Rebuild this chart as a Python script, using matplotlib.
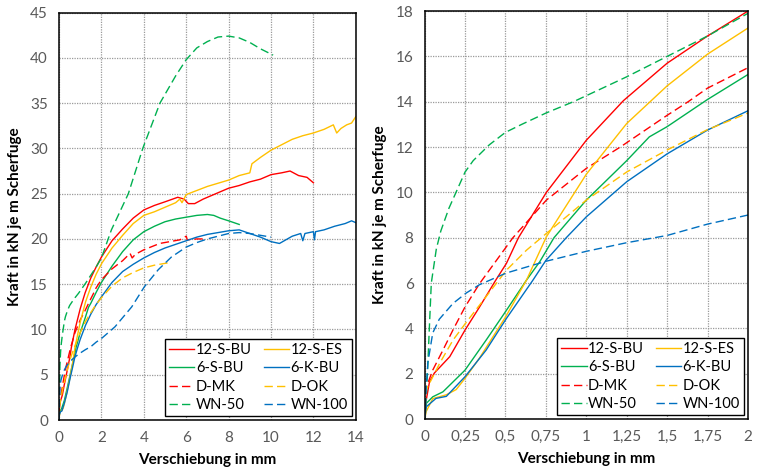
import matplotlib
matplotlib.use("Agg")
import matplotlib.pyplot as plt
from matplotlib.ticker import MultipleLocator, FuncFormatter

plt.rcParams["font.family"] = ["Lato", "DejaVu Sans"]

# Kraft-Verschiebungs-Kurven (x in mm, y in kN je m Scherfuge)
S12_BU_X = [0, 0.01, 0.03, 0.06, 0.155, 0.25, 0.34, 0.44, 0.506, 0.58, 0.753, 1.0, 1.23, 1.5, 1.75, 2.0,
            2.5, 3.0, 3.5, 4.0, 4.5, 5.0, 5.6, 5.9, 6.1, 6.4, 6.8, 7.3, 8.0, 8.5, 9.0, 9.5, 10.0, 10.5,
            10.9, 11.3, 11.7, 12.0]
S12_BU_Y = [0, 0.85, 1.65, 2.03, 2.75, 3.93, 4.95, 6.13, 6.87, 8.0, 10.0, 12.3, 14.05, 15.7, 16.9, 18.0,
            19.8, 21.1, 22.3, 23.2, 23.7, 24.1, 24.6, 24.4, 23.9, 23.9, 24.4, 24.9, 25.6, 25.9, 26.3, 26.6,
            27.1, 27.3, 27.5, 27.0, 26.8, 26.2]

S12_ES_X = [0, 0.01, 0.05, 0.134, 0.195, 0.25, 0.34, 0.5, 0.63, 0.753, 1.0, 1.25, 1.5, 1.75, 2.0,
            2.5, 3.0, 3.5, 4.0, 4.5, 5.0, 5.5, 5.7, 5.8, 6.0, 7.0, 8.0, 8.5, 9.0, 9.1, 9.5, 10.0, 10.5,
            11.0, 11.5, 12.0, 12.5, 12.94, 13.1, 13.3, 13.57, 13.8, 14.0]
S12_ES_Y = [0, 0.34, 0.9, 1.07, 1.3, 1.8, 2.7, 4.5, 6.13, 8.04, 10.8, 13.04, 14.7, 16.1, 17.25,
            19.0, 20.4, 21.7, 22.6, 23.0, 23.5, 24.0, 24.4, 24.0, 24.9, 25.8, 26.5, 27.0, 27.3, 28.3, 29.0,
            29.8, 30.4, 31.0, 31.4, 31.7, 32.1, 32.6, 31.7, 32.2, 32.6, 32.8, 33.5]

S6_S_BU_X = [0, 0.01, 0.05, 0.113, 0.25, 0.38, 0.506, 0.63, 0.712, 0.8, 1.0, 1.25, 1.39, 1.5, 1.75, 2.0,
             2.5, 3.0, 3.5, 4.0, 4.5, 5.0, 5.5, 6.0, 6.5, 7.0, 7.3, 7.6, 8.0, 8.5]
S6_S_BU_Y = [0, 0.69, 0.98, 1.2, 2.16, 3.48, 4.8, 6.13, 6.94, 8.0, 9.66, 11.4, 12.45, 12.9, 14.1, 15.2,
             17.0, 18.6, 19.9, 20.8, 21.4, 21.9, 22.2, 22.4, 22.6, 22.7, 22.6, 22.3, 22.0, 21.6]

S6_K_BU_X = [0, 0.01, 0.07, 0.134, 0.25, 0.38, 0.506, 0.67, 0.75, 0.876, 1.0, 1.25, 1.5, 1.75, 2.0,
             2.5, 3.0, 3.5, 4.0, 4.5, 5.0, 5.5, 6.0, 6.5, 7.0, 7.5, 8.0, 8.5, 9.0, 9.5, 10.0, 10.4, 10.7,
             11.0, 11.4, 11.5, 11.6, 12.0, 12.05, 12.1, 12.5, 13.0, 13.5, 13.8, 14.0]
S6_K_BU_Y = [0, 0.54, 0.91, 1.0, 1.87, 3.04, 4.44, 6.13, 7.0, 8.0, 8.92, 10.47, 11.7, 12.75, 13.6,
             15.2, 16.4, 17.2, 17.9, 18.5, 19.0, 19.4, 19.8, 20.2, 20.5, 20.7, 20.9, 21.0, 20.6, 20.2,
             19.7, 19.5, 19.9, 20.3, 20.6, 19.8, 20.6, 20.8, 19.9, 20.8, 21.0, 21.4, 21.7, 22.0, 21.8]

D_MK_X = [0, 0.01, 0.05, 0.113, 0.175, 0.25, 0.34, 0.444, 0.546, 0.753, 1.0, 1.21, 1.5, 1.63, 1.75, 2.0,
          2.5, 3.0, 3.35, 3.45, 3.6, 4.0, 4.75, 5.7, 6.0, 6.05, 6.5, 6.9]
D_MK_Y = [0, 1.4, 2.16, 3.04, 3.93, 4.95, 5.98, 7.0, 8.0, 9.66, 11.06, 12.0, 13.4, 14.0, 14.6, 15.5,
          16.7, 17.6, 18.4, 17.9, 18.3, 18.8, 19.5, 19.9, 20.3, 19.9, 20.0, 20.0]

D_OK_X = [0, 0.01, 0.093, 0.175, 0.25, 0.38, 0.506, 0.63, 0.753, 1.0, 1.25, 1.5, 1.744, 2.0,
          2.5, 3.0, 3.5, 4.0, 4.5, 5.0, 5.25]
D_OK_Y = [0, 1.3, 2.46, 3.48, 4.2, 5.4, 6.57, 7.45, 8.19, 9.66, 10.9, 11.87, 12.75, 13.5,
          14.8, 15.7, 16.3, 16.8, 17.1, 17.3, 17.4]

WN_50_X = [0, 0.01, 0.02, 0.03, 0.041, 0.072, 0.1, 0.15, 0.2, 0.25, 0.3, 0.4, 0.5, 0.6, 0.75, 0.92,
           1.25, 1.5, 1.75, 2.0, 2.47, 3.27, 3.95, 4.76, 5.5, 6.0, 6.5, 7.0, 7.5, 8.0, 8.5, 9.0, 9.5, 10.1]
WN_50_Y = [0, 1.0, 2.5, 4.2, 6.0, 7.5, 8.3, 9.3, 10.1, 10.9, 11.4, 12.1, 12.65, 13.0, 13.5, 14.0,
           15.1, 16.0, 16.9, 17.9, 21.0, 25.0, 30.0, 35.0, 38.0, 39.8, 41.1, 41.8, 42.3, 42.4, 42.2, 41.7,
           41.0, 40.3]

WN_100_X = [0, 0.006, 0.01, 0.02, 0.05, 0.09, 0.175, 0.257, 0.34, 0.504, 0.75, 1.0, 1.25, 1.5, 1.75, 2.0,
            2.64, 3.43, 4.02, 4.68, 5.3, 6.0, 6.5, 7.0, 7.5, 8.0, 8.5, 9.0, 9.5, 10.0]
WN_100_Y = [0, 0.56, 1.44, 2.5, 3.8, 4.4, 5.1, 5.56, 5.93, 6.44, 6.96, 7.4, 7.78, 8.1, 8.6, 9.0,
            10.3, 12.5, 14.7, 16.6, 18.0, 19.1, 19.6, 20.0, 20.3, 20.6, 20.7, 20.6, 20.4, 20.2]

RED = "#FF0000"
YELLOW = "#FFC000"
GREEN = "#00B050"
BLUE = "#0070C0"

# order chosen so the 2-column legend reads row by row like the original
series = [
    ("12-S-BU", S12_BU_X, S12_BU_Y, RED, "-"),
    ("6-S-BU", S6_S_BU_X, S6_S_BU_Y, GREEN, "-"),
    ("D-MK", D_MK_X, D_MK_Y, RED, "--"),
    ("WN-50", WN_50_X, WN_50_Y, GREEN, "--"),
    ("12-S-ES", S12_ES_X, S12_ES_Y, YELLOW, "-"),
    ("6-K-BU", S6_K_BU_X, S6_K_BU_Y, BLUE, "-"),
    ("D-OK", D_OK_X, D_OK_Y, YELLOW, "--"),
    ("WN-100", WN_100_X, WN_100_Y, BLUE, "--"),
]

fig = plt.figure(figsize=(7.57, 4.76), dpi=100)
ax1 = fig.add_axes([0.078, 0.1176, 0.392, 0.856])
ax2 = fig.add_axes([0.561, 0.1197, 0.427, 0.857])


def style_axes(ax):
    ax.grid(True, color="#9a9a9a", linestyle=(0, (1, 1)), linewidth=0.9)
    ax.set_axisbelow(True)
    ax.tick_params(length=0, labelsize=11, labelcolor="#595959", pad=8)
    for sp in ax.spines.values():
        sp.set_color("black")
        sp.set_linewidth(1.1)
    ax.set_xlabel("Verschiebung in mm", fontsize=11, fontweight="bold", labelpad=6)
    ax.set_ylabel("Kraft in kN je m Scherfuge", fontsize=11, fontweight="bold", labelpad=6)


for ax in (ax1, ax2):
    for name, xs, ys, col, ls in series:
        if ls == "--":
            ax.plot(xs, ys, color=col, lw=1.0, dashes=(6, 3), label=name)
        else:
            ax.plot(xs, ys, color=col, lw=1.0, label=name)
    style_axes(ax)
    leg = ax.legend(loc="lower right", ncol=2, fontsize=10.5, frameon=True, fancybox=False,
                    edgecolor="black", framealpha=1, borderaxespad=0.25, handlelength=1.75,
                    handletextpad=0.1, columnspacing=0.8, labelspacing=0.3, borderpad=0.3)
    leg.get_frame().set_linewidth(1.0)

ax1.set_xlim(0, 14)
ax1.set_ylim(0, 45)
ax1.xaxis.set_major_locator(MultipleLocator(2))
ax1.yaxis.set_major_locator(MultipleLocator(5))

ax2.set_xlim(0, 2)
ax2.set_ylim(0, 18)
ax2.xaxis.set_major_locator(MultipleLocator(0.25))
ax2.yaxis.set_major_locator(MultipleLocator(2))
ax2.xaxis.set_major_formatter(FuncFormatter(lambda v, _: f"{v:g}".replace(".", ",")))

fig.savefig("out.png", dpi=100)
